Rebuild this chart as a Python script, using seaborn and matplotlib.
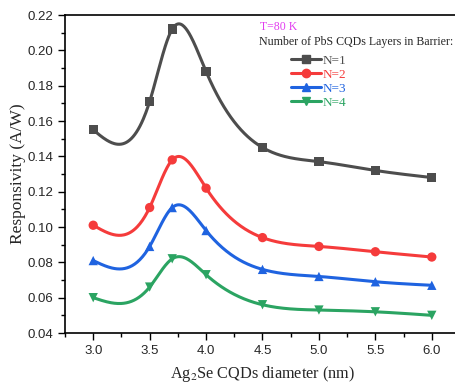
import numpy as np
import pandas as pd
import seaborn as sns
import matplotlib.pyplot as plt
from matplotlib.lines import Line2D
from matplotlib.ticker import MultipleLocator

# data
diameter = [3.0, 3.5, 3.7, 4.0, 4.5, 5.0, 5.5, 6.0]
n1 = [0.155, 0.171, 0.212, 0.188, 0.145, 0.137, 0.132, 0.128]
n2 = [0.101, 0.111, 0.138, 0.122, 0.094, 0.089, 0.086, 0.083]
n3 = [0.081, 0.089, 0.111, 0.098, 0.076, 0.072, 0.069, 0.067]
n4 = [0.060, 0.066, 0.082, 0.073, 0.056, 0.053, 0.052, 0.050]
labels = ["N=1", "N=2", "N=3", "N=4"]
colors = ["#4d4d4d", "#f53b3b", "#1f63e0", "#2ba462"]
markers = ["s", "o", "^", "v"]


def natural_spline(x, y, xs):
    # plain natural cubic spline, like Origin's spline connection
    x = np.asarray(x, float)
    y = np.asarray(y, float)
    n = len(x)
    h = np.diff(x)
    A = np.zeros((n, n))
    b = np.zeros(n)
    A[0, 0] = A[-1, -1] = 1
    for i in range(1, n - 1):
        A[i, i - 1] = h[i - 1]
        A[i, i] = 2 * (h[i - 1] + h[i])
        A[i, i + 1] = h[i]
        b[i] = 6 * ((y[i + 1] - y[i]) / h[i] - (y[i] - y[i - 1]) / h[i - 1])
    M = np.linalg.solve(A, b)
    idx = np.clip(np.searchsorted(x, xs) - 1, 0, n - 2)
    x0, x1 = x[idx], x[idx + 1]
    hh = x1 - x0
    t0, t1 = x1 - xs, xs - x0
    return (M[idx] * t0**3 / (6 * hh) + M[idx + 1] * t1**3 / (6 * hh)
            + (y[idx] / hh - M[idx] * hh / 6) * t0
            + (y[idx + 1] / hh - M[idx + 1] * hh / 6) * t1)


pts = pd.DataFrame({"d": diameter * 4,
                    "r": n1 + n2 + n3 + n4,
                    "N": [lab for lab in labels for _ in diameter]})

xs = np.linspace(3.0, 6.0, 400)
curves = []
for lab, ys in zip(labels, [n1, n2, n3, n4]):
    curves.append(pd.DataFrame({"d": xs, "r": natural_spline(diameter, ys, xs), "N": lab}))
curves = pd.concat(curves)

sns.set_theme(style="ticks")
plt.rcParams["font.family"] = ["Liberation Serif", "DejaVu Serif"]
plt.rcParams["mathtext.fontset"] = "stix"

fig = plt.figure(figsize=(4.56, 3.83), dpi=100)
ax = fig.add_axes([65 / 456, 50 / 383, 395 / 456, 318 / 383])

pal = dict(zip(labels, colors))
sns.lineplot(data=curves, x="d", y="r", hue="N", palette=pal, sort=False,
             lw=2.2, legend=False, ax=ax)
sns.scatterplot(data=pts, x="d", y="r", hue="N", style="N", palette=pal,
                markers=dict(zip(labels, markers)), s=45, linewidth=0,
                legend=False, ax=ax, zorder=3)

ax.set_xlim(2.75, 6.25)
ax.set_ylim(0.04, 0.22)
ax.xaxis.set_major_locator(MultipleLocator(0.5))
ax.xaxis.set_minor_locator(MultipleLocator(0.25))
ax.yaxis.set_major_locator(MultipleLocator(0.02))
ax.yaxis.set_minor_locator(MultipleLocator(0.01))
ax.set_xticklabels([f"{v:.1f}" for v in ax.get_xticks()], family="Liberation Sans")
ax.set_yticklabels([f"{v:.2f}" for v in ax.get_yticks()], family="Liberation Sans")
ax.tick_params(which="major", direction="out", length=5, width=1, labelsize=9.5, color="black")
ax.tick_params(which="minor", direction="out", length=3, width=1, color="black")
for s in ax.spines.values():
    s.set_linewidth(1.2)
    s.set_color("black")

ax.set_xlabel("Ag$_2$Se CQDs diameter (nm)", fontsize=11.7, labelpad=5)
ax.set_ylabel("Responsivity (A/W)", fontsize=12.5, labelpad=1)

fig.text(260 / 456, 1 - 27 / 383, "T=80 K", color="#e23cf0", fontsize=8.5, va="center")
fig.text(259 / 456, 1 - 42 / 383, "Number of PbS CQDs Layers in Barrier:", fontsize=8.6, va="center")
handles = [Line2D([], [], color=c, marker=m, lw=2.2, ms=6) for c, m in zip(colors, markers)]
leg = ax.legend(handles, labels, loc="upper left", bbox_to_anchor=(284 / 456, 1 - 48 / 383),
                bbox_transform=fig.transFigure, frameon=False, fontsize=9.5,
                handlelength=2.3, handletextpad=0.1, labelspacing=0.14,
                borderpad=0, labelcolor="linecolor")

fig.savefig("out.png", dpi=100)
